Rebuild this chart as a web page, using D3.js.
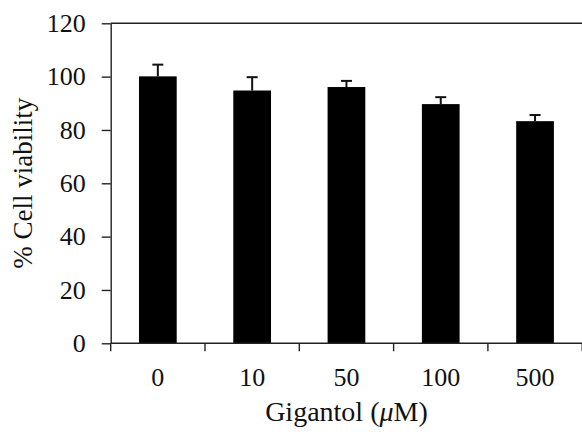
<!DOCTYPE html>
<html lang="en">
<head>
	<meta charset="UTF-8">
	<title>cell viability</title>
	<script src="https://d3js.org/d3.v7.min.js"></script>
	<style>
		body { margin: 0; background: #fff; }
		svg { display: block; }
		svg text { font-family: "Liberation Serif", "Times New Roman", Times, serif; }
	</style>
</head>
<body>

	<script type="text/javascript">
		// data
		var doses = ["0", "10", "50", "100", "500"];
		var viability = [100.1, 94.8, 96.1, 89.7, 83.3];
		var errors = [4.4, 5.0, 2.3, 2.6, 2.3];
		var yTicks = [0, 20, 40, 60, 80, 100, 120];

		var w = 582;
		var h = 432;
		var plotLeft = 110.7, plotRight = 582.2, plotTop = 23.3, plotBottom = 343.3;

		var svg = d3.select("body").append("svg").attr("width", w).attr("height", h);

		var xScale = d3.scaleBand().domain(doses).range([plotLeft, plotRight])
			.paddingInner(0.6).paddingOuter(0.3);
		var yScale = d3.scaleLinear().domain([0, 120]).range([plotBottom, plotTop]);

		var axisColor = "#222";

		//bars
		svg.selectAll("rect.bar")
			.data(viability)
			.enter()
			.append("rect")
			.attr("class", "bar")
			.attr("x", function(d, i){ return xScale(doses[i]); })
			.attr("y", function(d){ return yScale(d); })
			.attr("width", xScale.bandwidth())
			.attr("height", function(d){ return plotBottom - yScale(d); })
			.attr("fill", "#000");

		//error bars (upper only)
		var cx = function(i){ return xScale(doses[i]) + xScale.bandwidth() / 2; };
		var eb = svg.append("g").attr("stroke", "#111").attr("stroke-width", 2);
		eb.selectAll("line.v")
			.data(viability)
			.enter()
			.append("line")
			.attr("class", "v")
			.attr("x1", function(d, i){ return cx(i); })
			.attr("x2", function(d, i){ return cx(i); })
			.attr("y1", function(d){ return yScale(d); })
			.attr("y2", function(d, i){ return yScale(d + errors[i]); });
		eb.selectAll("line.cap")
			.data(viability)
			.enter()
			.append("line")
			.attr("class", "cap")
			.attr("x1", function(d, i){ return cx(i) - 5.5; })
			.attr("x2", function(d, i){ return cx(i) + 5.5; })
			.attr("y1", function(d, i){ return yScale(d + errors[i]); })
			.attr("y2", function(d, i){ return yScale(d + errors[i]); });

		//y axis
		var yAxis = svg.append("g")
			.attr("transform", "translate(" + plotLeft + ",0)")
			.call(d3.axisLeft(yScale).tickValues(yTicks).tickSize(9).tickSizeOuter(0).tickPadding(16));
		yAxis.attr("font-family", null).attr("font-size", null);
		yAxis.selectAll("text").style("font-size", "26px").attr("fill", "#111");
		yAxis.select(".domain").attr("stroke", axisColor).attr("stroke-width", 1.4);
		yAxis.selectAll(".tick line").attr("stroke", axisColor).attr("stroke-width", 1.4);

		var lines = svg.append("g").attr("stroke", axisColor).attr("stroke-width", 1.4);

		//top line at 120
		lines.append("line")
			.attr("x1", plotLeft).attr("x2", w)
			.attr("y1", yScale(120)).attr("y2", yScale(120));

		//x axis: baseline, boundary ticks
		lines.append("line")
			.attr("x1", plotLeft).attr("x2", w)
			.attr("y1", plotBottom).attr("y2", plotBottom);
		lines.selectAll("line.xt")
			.data(d3.range(doses.length + 1))
			.enter()
			.append("line")
			.attr("class", "xt")
			.attr("x1", function(i){ return xScale.range()[0] + i * xScale.step(); })
			.attr("x2", function(i){ return xScale.range()[0] + i * xScale.step(); })
			.attr("y1", plotBottom)
			.attr("y2", plotBottom + 8);

		//x labels
		svg.selectAll("text.xl")
			.data(doses)
			.enter()
			.append("text")
			.attr("class", "xl")
			.text(function(d){ return d; })
			.attr("x", function(d){ return xScale(d) + xScale.bandwidth() / 2; })
			.attr("y", 386)
			.attr("text-anchor", "middle")
			.style("font-size", "26px")
			.attr("fill", "#111");

		//axis titles
		var xt = svg.append("text")
			.attr("x", (plotLeft + plotRight) / 2)
			.attr("y", 421)
			.attr("text-anchor", "middle")
			.style("font-size", "28px")
			.attr("fill", "#111");
		xt.append("tspan").text("Gigantol (");
		xt.append("tspan").attr("font-style", "italic").text("μ");
		xt.append("tspan").text("M)");

		svg.append("text")
			.attr("transform", "translate(31.5," + ((plotTop + plotBottom) / 2) + ") rotate(-90)")
			.attr("text-anchor", "middle")
			.style("font-size", "27px")
			.attr("fill", "#111")
			.text("% Cell viability");
	</script>

</body>
</html>
